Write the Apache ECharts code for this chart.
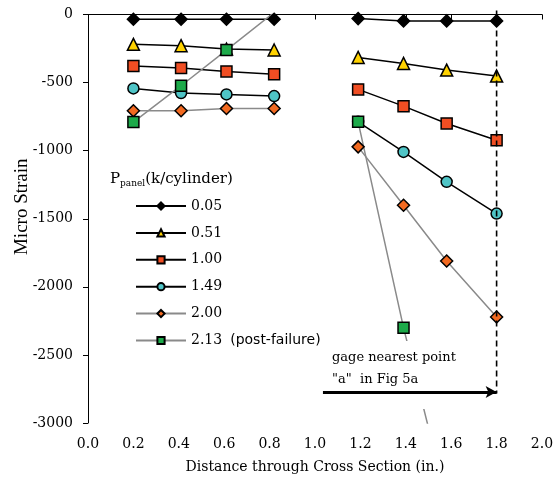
<!DOCTYPE html>
<html>
<head>
<meta charset="utf-8">
<script src="https://cdn.jsdelivr.net/npm/echarts@6/dist/echarts.min.js"></script>
<style>html,body{margin:0;padding:0;background:#fff;}#c{width:558px;height:480px;}</style>
</head>
<body>
<div id="c"></div>
<script>
// Gage positions through the cross section (in.)
const xPositions = [0.2, 0.41, 0.61, 0.82, 1.19, 1.39, 1.58, 1.8];
const xTicks = ['0.0','0.2','0.4','0.6','0.8','1.0','1.2','1.4','1.6','1.8','2.0'];
const yTicks = [0, -500, -1000, -1500, -2000, -2500, -3000];
const seriesNames = ['0.05', '0.51', '1.00', '1.49', '2.00', '2.13'];
// Micro strain per load level (null = no reading)
const s005 = [-35, -35, -35, -35, -30, -47, -47, -47];
const s051 = [-219, -229, -254, -261, -315, -359, -408, -452];
const s100 = [-379, -393, -418, -438, -550, -673, -800, -923];
const s149 = [-543, -577, -587, -599, -788, -1009, -1229, -1462];
const s200 = [-707, -707, -690, -690, -972, -1401, -1810, -2222];
const s213 = [-790, -523, -261, 15, -788, -2300, -3570, null];
// annotation values
const gageX = 1.8;
const dashedTop = 30, dashedBottom = -2783;
const arrowStartX = 1.035, arrowY = -2773;

const allValues = [s005, s051, s100, s149, s200, s213];
const symbols = ['diamond', 'triangle', 'rect', 'circle', 'diamond', 'rect'];
const symbolSizes = [12, 12, 11, 11, 12, 11];
const fills = ['#000000', '#FFD200', '#F04E23', '#4FC4C6', '#F26A21', '#1DAA4A'];
const lineColors = ['#000000', '#000000', '#000000', '#000000', '#8a8a8a', '#8a8a8a'];

function toData(vals) {
  const out = [];
  xPositions.forEach((x, i) => {
    if (i === 4) out.push([1.0, null]); // break between the two gage groups
    if (vals[i] !== null) out.push([x, vals[i]]);
  });
  return out;
}

const SERIF = '"DejaVu Serif", serif';
const TIMES = '"Liberation Serif", "Times New Roman", serif';
const SANS = '"DejaVu Sans", Verdana, sans-serif';

const series = allValues.map((vals, k) => ({
  name: seriesNames[k],
  type: 'line',
  data: toData(vals),
  symbol: symbols[k],
  symbolSize: symbolSizes[k],
  connectNulls: false,
  clip: true,
  z: 2,
  lineStyle: { color: lineColors[k], width: 1.5 },
  itemStyle: { color: fills[k], borderColor: '#000', borderWidth: 1.5 },
  emphasis: { disabled: true },
  animation: false
}));

series.push({
  name: 'gage',
  type: 'line',
  data: [[gageX, dashedTop], [gageX, dashedBottom]],
  symbol: 'none',
  clip: false,
  z: 5,
  lineStyle: { color: '#000', width: 1.6, type: [6, 4] },
  animation: false
});

series.push({
  name: 'arrow',
  type: 'line',
  data: [],
  z: 6,
  markLine: {
    silent: true,
    symbol: ['none', 'arrow'],
    symbolSize: [9, 11],
    label: { show: false },
    lineStyle: { color: '#000', width: 3, type: 'solid' },
    data: [[{ coord: [arrowStartX, arrowY] }, { coord: [gageX, arrowY] }]],
    animation: false
  },
  animation: false
});

const chart = echarts.init(document.getElementById('c'), null, { renderer: 'canvas' });
chart.setOption({
  animation: false,
  backgroundColor: '#fff',
  grid: { left: 88, right: 16, top: 14.5, bottom: 57, containLabel: false, outerBoundsMode: 'none' },
  xAxis: {
    type: 'value', min: 0, max: 2.0, interval: 0.2,
    name: 'Distance through Cross Section (in.)',
    nameLocation: 'middle', nameGap: 37, nameMoveOverlap: false,
    nameTextStyle: { fontFamily: SERIF, fontSize: 14, color: '#000' },
    axisLine: { lineStyle: { color: '#000', width: 1 } },
    axisTick: { show: true, length: 5, lineStyle: { color: '#000' } },
    axisLabel: {
      fontFamily: SERIF, fontSize: 14, color: '#000', margin: 14,
      formatter: (v) => xTicks[Math.round(v / 0.2)]
    },
    splitLine: { show: false }
  },
  yAxis: {
    type: 'value', min: -3000, max: 0, interval: 500,
    name: 'Micro Strain',
    nameLocation: 'middle', nameGap: 56, nameMoveOverlap: false,
    nameTextStyle: { fontFamily: TIMES, fontSize: 19, color: '#000', padding: [0, 0, 0, 24] },
    axisLine: { show: true, lineStyle: { color: '#000', width: 1 } },
    axisTick: { show: true, length: 5, lineStyle: { color: '#000' } },
    axisLabel: {
      fontFamily: SERIF, fontSize: 14, color: '#000', margin: 15,
      formatter: (v) => String(yTicks[yTicks.indexOf(v)])
    },
    splitLine: { show: false }
  },
  legend: {
    data: seriesNames,
    orient: 'vertical',
    left: 135, top: 198.5,
    padding: 0,
    itemWidth: 50, itemHeight: 9, itemGap: 11.9,
    selectedMode: false,
    textStyle: {
      fontFamily: SERIF, fontSize: 14, color: '#000', lineHeight: 15,
      rich: {
        n: { fontFamily: SERIF, fontSize: 14, color: '#000' },
        p: { fontFamily: SANS, fontSize: 14, color: '#000', padding: [0, 0, 0, 8] }
      }
    },
    formatter: (name) => name === '2.13' ? '{n|2.13}{p|(post-failure)}' : name
  },
  graphic: [
    {
      type: 'text', left: 110, top: 172, z: 4,
      style: {
        text: '{P|P}{s|panel}{t|(k/cylinder)}',
        rich: {
          P: { fontFamily: SERIF, fontSize: 15, color: '#000' },
          s: { fontFamily: SERIF, fontSize: 9, color: '#000', padding: [8, 0, 0, 0] },
          t: { fontFamily: SERIF, fontSize: 15, color: '#000' }
        }
      }
    },
    {
      type: 'rect', z: 3, silent: true,
      shape: { x: 326, y: 341, width: 140, height: 68 },
      style: { fill: '#fff' }
    },
    {
      type: 'text', left: 332, top: 347, z: 4,
      style: {
        text: 'gage nearest point\n"a"  in Fig 5a',
        fontFamily: SERIF, fontSize: 13, lineHeight: 22, fill: '#000'
      }
    }
  ],
  series: series
});
</script>
</body>
</html>
